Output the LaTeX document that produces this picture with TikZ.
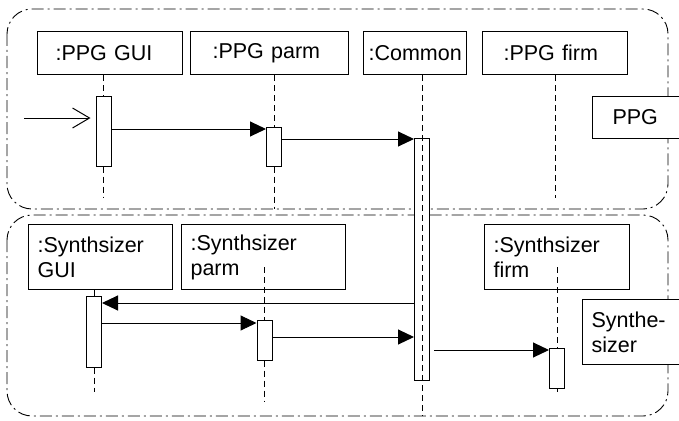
\documentclass[tikz,border=0pt]{standalone}
\usepackage{fontspec}
\setmainfont{Liberation Sans}
\usetikzlibrary{arrows.meta}

\tikzset{
  frame/.style={line width=0.9pt, rounded corners=25pt, dash pattern=on 12pt off 4pt on 2pt off 4pt},
  obj/.style 2 args={draw, line width=1.1pt, anchor=north west, align=left, inner ysep=0pt,
    inner xsep=#1, text width=#2, font=\fontsize{21.5}{25}\selectfont},
  bar/.style={draw, line width=1pt, fill=white, minimum width=15pt, inner sep=0pt},
  life/.style={line width=0.9pt, dash pattern=on 6pt off 4pt},
  msg/.style={line width=1pt, -{Triangle[length=16pt,width=15pt]}},
}

\begin{document}
\begin{tikzpicture}[x=1pt,y=-1pt]
  \useasboundingbox (0,0) rectangle (679,420);
  \clip (0,0) rectangle (679,420);
  % the two fragments
  \draw[frame] (7,9) rectangle (668,209);
  \draw[frame] (7,215) rectangle (668,416);
  % objects
  \node[obj={18pt}{109pt}, minimum height=43pt] (pgui)  at (37,31)  {:PPG GUI};
  \node[obj={22pt}{114pt}, minimum height=43pt] (pparm) at (190,31) {:PPG parm};
  \node[obj={5pt}{93pt},   minimum height=43pt] (common) at (363,31) {:Common};
  \node[obj={21pt}{103pt}, minimum height=43pt] (pfirm) at (482,31) {:PPG firm};
  \node[obj={9pt}{126pt}, minimum height=65pt] (sgui)  at (28,224)  {:Synthsizer\\GUI};
  \node[obj={9pt}{146pt}, minimum height=65pt] (sparm) at (181,224) {:Synthsizer\\parm};
  \node[obj={9pt}{127pt}, minimum height=65pt] (sfirm) at (484,224) {:Synthsizer\\firm};
  % activation bars
  \node[bar, minimum height=70pt]  (pguibar)  at (103.5,131) {};
  \node[bar, minimum height=39pt]  (pparmbar) at (274,146.5) {};
  \node[bar, minimum height=242pt] (combar)   at (422,259)   {};
  \node[bar, minimum height=71pt]  (sguibar)  at (94,331.5)  {};
  \node[bar, minimum height=40pt]  (sparmbar) at (264.5,340) {};
  \node[bar, minimum height=40pt]  (sfirmbar) at (557,368)   {};
  % lifelines
  \coordinate (pend) at (0,198);
  \coordinate (pbottom) at (0,209);
  \coordinate (sbottom) at (0,416);
  \coordinate (send) at (0,392);
  \coordinate (sparmend) at (0,402);
  \coordinate (stop) at (0,267);
  \draw[life] (pgui.south -| pguibar) -- (pguibar.north) (pguibar.south) -- (pguibar |- pend);
  \draw[life] (pparm.south -| pparmbar) -- (pparmbar.north) (pparmbar.south) -- (pparmbar |- pbottom);
  \draw[life] (common.south -| combar) -- (combar |- sbottom);
  \draw[life] (pfirm.south) -- (pfirm |- pend);
  \draw[life] (sgui.south -| sguibar) -- (sguibar.north) (sguibar.south) -- (sguibar |- send);
  \draw[life] (sparmbar |- stop) -- (sparmbar.north) (sparmbar.south) -- (sparmbar |- sparmend);
  \draw[life] (sfirmbar |- stop) -- (sfirmbar.north) (sfirmbar.south) -- (sfirmbar |- send);
  % messages
  \coordinate (start) at (24,118);
  \path (0,129) coordinate (m1) (0,139) coordinate (m2) (0,303) coordinate (m3)
        (0,323) coordinate (m4) (0,337) coordinate (m5) (0,350) coordinate (m6);
  \draw[line width=1pt, -{Straight Barb[length=17pt,width=20pt]}, shorten >=5pt] (start) -- (pguibar.west |- start);
  \draw[msg] (pguibar.east |- m1) -- (pparmbar.west |- m1);
  \draw[msg] (pparmbar.east |- m2) -- (combar.west |- m2);
  \draw[msg] (combar.west |- m3) -- (sguibar.east |- m3);
  \draw[msg] (sguibar.east |- m4) -- (sparmbar.west |- m4);
  \draw[msg] (sparmbar.east |- m5) -- (combar.west |- m5);
  \draw[msg, shorten <=4pt] (combar.east |- m6) -- (sfirmbar.west |- m6);
  % fragment names
  \node[obj={20pt}{50pt}, minimum height=42pt, fill=white] (ppg) at (592,96) {PPG};
  \node[obj={9pt}{82pt}, minimum height=65pt, fill=white] (synth) at (582,299) {Synthe-\\sizer};
\end{tikzpicture}
\end{document}
